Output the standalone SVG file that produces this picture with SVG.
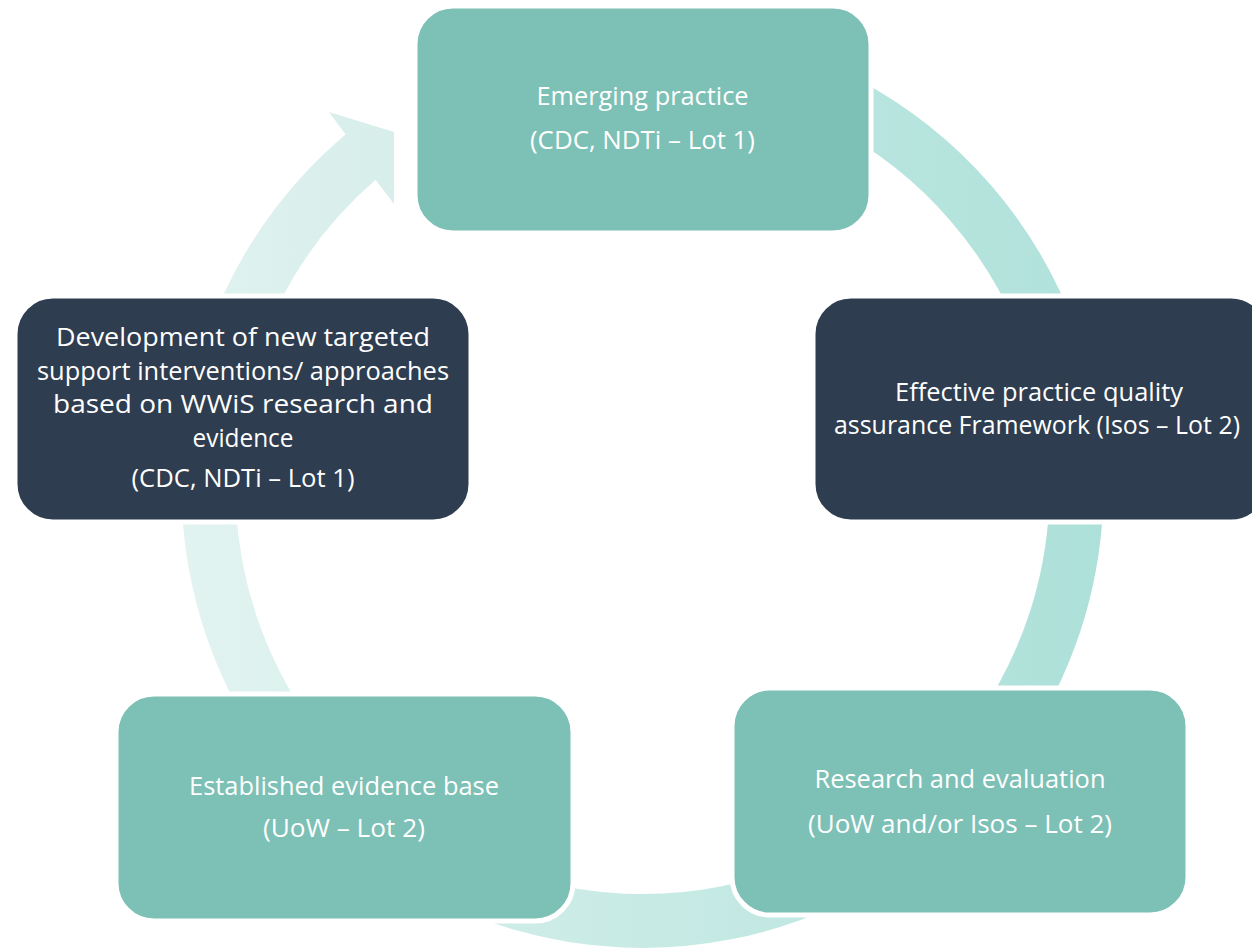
<svg xmlns="http://www.w3.org/2000/svg" width="1252" height="952" viewBox="0 0 1252 952">
<defs>
<linearGradient id="gE" x1="0" y1="0" x2="1" y2="0"><stop offset="0" stop-color="#DFF2EF"/><stop offset="1" stop-color="#D7EEEA"/></linearGradient>
<linearGradient id="gA" x1="0" y1="0" x2="1" y2="0"><stop offset="0" stop-color="#B9E5DF"/><stop offset="1" stop-color="#B1E2DB"/></linearGradient>
<linearGradient id="gB" x1="0" y1="0" x2="1" y2="0"><stop offset="0" stop-color="#B3E3DC"/><stop offset="1" stop-color="#ACE0D8"/></linearGradient>
<linearGradient id="gC" x1="0" y1="0" x2="1" y2="0"><stop offset="0" stop-color="#D3EEE9"/><stop offset="1" stop-color="#BFE7E1"/></linearGradient>
<linearGradient id="gD" x1="0" y1="0" x2="1" y2="0"><stop offset="0" stop-color="#E2F3F0"/><stop offset="1" stop-color="#DCF1ED"/></linearGradient>
</defs>
<style>
.box{stroke:#FFFFFF;stroke-width:5}
.teal{fill:#7DC0B6}
.dark{fill:#2E3D4F}
.t{font-family:"Open Sans","Noto Sans","Liberation Sans",sans-serif;font-size:26px;fill:#FFFFFF;text-anchor:middle}
</style>
<g id="connectors">
<path id="arrowA" fill="url(#gA)" d="M 858.9 80.0 A 461 461 0 0 1 1075.7 329.3 L 1025.0 347.8 A 407 407 0 0 0 833.6 127.6 Z"/>
<path id="arrowB" fill="url(#gB)" d="M 1103.2 503.1 A 461 461 0 0 1 1020.1 751.4 L 975.9 720.4 A 407 407 0 0 0 1049.3 501.2 Z"/>
<path id="arrowC" fill="url(#gC)" d="M 837.3 904.8 A 461 461 0 0 1 412.0 886.2 L 439.0 839.5 A 407 407 0 0 0 814.5 855.9 Z"/>
<path id="arrowD" fill="url(#gD)" d="M 264.9 751.4 A 461 461 0 0 1 181.8 503.1 L 235.7 501.2 A 407 407 0 0 0 309.1 720.4 Z"/>
<path id="arrowE" fill="url(#gE)" d="M 209.3 329.3 A 461 461 0 0 1 345.6 134.4 L 329 112 L 394 132 L 394 204 L 375.5 179.8 A 407 407 0 0 0 260.0 347.8 Z"/>
</g>
<g id="node-emerging">
<rect class="box teal" x="415" y="6" width="456" height="227" rx="38"/>
<text class="t" x="642.5" y="105" textLength="212" lengthAdjust="spacingAndGlyphs">Emerging practice</text>
<text class="t" x="642.5" y="149" textLength="225" lengthAdjust="spacingAndGlyphs">(CDC, NDTi – Lot 1)</text>
</g>
<g id="node-framework">
<rect class="box dark" x="813" y="296" width="456" height="226" rx="38"/>
<text class="t" x="1039" y="401" textLength="288" lengthAdjust="spacingAndGlyphs">Effective practice quality</text>
<text class="t" x="1037" y="434" textLength="406" lengthAdjust="spacingAndGlyphs">assurance Framework (Isos – Lot 2)</text>
</g>
<g id="node-research">
<rect class="box teal" x="732" y="688" width="456" height="227" rx="38"/>
<text class="t" x="960" y="788" textLength="291" lengthAdjust="spacingAndGlyphs">Research and evaluation</text>
<text class="t" x="960" y="833" textLength="304" lengthAdjust="spacingAndGlyphs">(UoW and/or Isos – Lot 2)</text>
</g>
<g id="node-evidence">
<rect class="box teal" x="116" y="694" width="457" height="227" rx="38"/>
<text class="t" x="344" y="795" textLength="310" lengthAdjust="spacingAndGlyphs">Established evidence base</text>
<text class="t" x="344" y="837" textLength="162" lengthAdjust="spacingAndGlyphs">(UoW – Lot 2)</text>
</g>
<g id="node-development">
<rect class="box dark" x="15" y="296" width="456" height="226" rx="38"/>
<text class="t" x="243" y="346" textLength="374" lengthAdjust="spacingAndGlyphs">Development of new targeted</text>
<text class="t" x="243" y="380" textLength="412" lengthAdjust="spacingAndGlyphs">support interventions/ approaches</text>
<text class="t" x="243" y="413" textLength="380" lengthAdjust="spacingAndGlyphs">based on WWiS research and</text>
<text class="t" x="243" y="447" textLength="101" lengthAdjust="spacingAndGlyphs">evidence</text>
<text class="t" x="243" y="487" textLength="223" lengthAdjust="spacingAndGlyphs">(CDC, NDTi – Lot 1)</text>
</g>
</svg>
